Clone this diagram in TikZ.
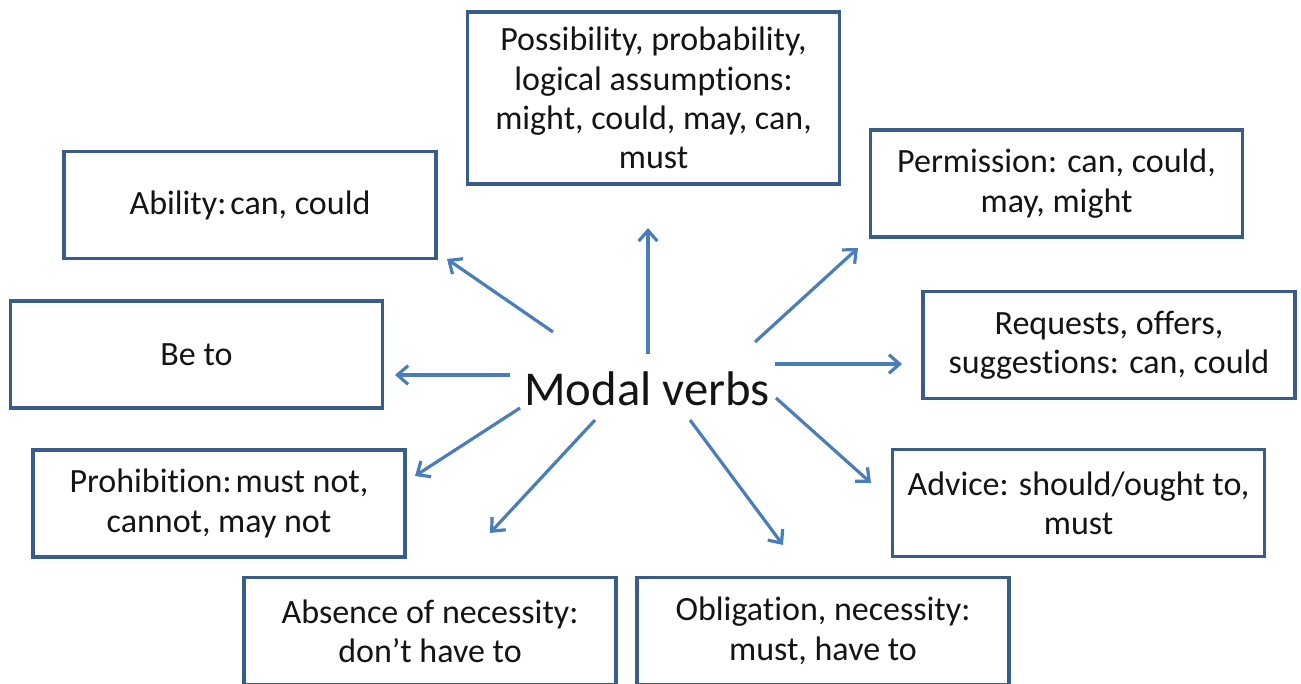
\documentclass[tikz,border=0pt]{standalone}
\usepackage{fontspec}
\setmainfont{Carlito}[RawFeature=-liga]
\usetikzlibrary{arrows.meta}
\definecolor{boxline}{RGB}{56,93,138}
\definecolor{arrowblue}{RGB}{74,126,187}
\definecolor{txt}{RGB}{20,20,20}
\tikzset{
  modalbox/.style={draw=boxline, line width=2.3pt, fill=white, text=txt,
    minimum width=279pt, minimum height=80.25pt, inner sep=0pt, align=center,
    font=\fontsize{25.5pt}{29.5pt}\selectfont},
  modalarrow/.style={draw=arrowblue, line width=2.4pt,
    -{Straight Barb[length=8pt, width=14pt, line width=2.4pt]}},
}
\begin{document}
\begin{tikzpicture}[x=0.75pt, y=-0.75pt]
\useasboundingbox (0,0) rectangle (1301,684);
% boxes
\node[modalbox, minimum height=129pt] (poss) at (653.5,98) {Possibility, probability,\\logical assumptions:\\might, could, may, can,\\must};
\node[modalbox] (abil) at (250,205) {Ability:\hspace{0.12em}can, could};
\node[modalbox] (perm) at (1056.5,183.5) {Permission: can, could,\\may, might};
\node[modalbox] (beto) at (196.5,354.5) {Be to};
\node[modalbox] (req) at (1109,345) {Requests, offers,\\suggestions: can, could};
\node[modalbox] (proh) at (219,503.5) {Prohibition:\hspace{0.12em}must not,\\cannot, may not};
\node[modalbox] (adv) at (1078.5,503) {Advice: should/ought to,\\must};
\node[modalbox] (abs) at (430,631) {Absence of necessity:\\don’t have to};
\node[modalbox] (obl) at (823,631) {Obligation, necessity:\\must, have to};
% centre
\node[text=txt, font=\fontsize{36.5pt}{40pt}\selectfont, inner sep=0pt] (modal) at (647,389) {Modal verbs};
% arrow end points
\coordinate (sUp) at (648,354);  \coordinate (eUp) at (648,228);
\coordinate (sAb) at (553,332);  \coordinate (eAb) at (447,259);
\coordinate (sBe) at (510,375);  \coordinate (eBe) at (395,375);
\coordinate (sPr) at (520,408);  \coordinate (ePr) at (415,476);
\coordinate (sAs) at (595,420);  \coordinate (eAs) at (490,533);
\coordinate (sOb) at (690,420);  \coordinate (eOb) at (783,545);
\coordinate (sAd) at (776,398);  \coordinate (eAd) at (871,483);
\coordinate (sRq) at (775,364);  \coordinate (eRq) at (902,364);
\coordinate (sPm) at (755,342);  \coordinate (ePm) at (858,248);
% arrows
\draw[modalarrow] (sUp) -- (eUp);
\draw[modalarrow] (sAb) -- (eAb);
\draw[modalarrow] (sBe) -- (eBe);
\draw[modalarrow] (sPr) -- (ePr);
\draw[modalarrow] (sAs) -- (eAs);
\draw[modalarrow] (sOb) -- (eOb);
\draw[modalarrow] (sAd) -- (eAd);
\draw[modalarrow] (sRq) -- (eRq);
\draw[modalarrow] (sPm) -- (ePm);
\end{tikzpicture}
\end{document}
